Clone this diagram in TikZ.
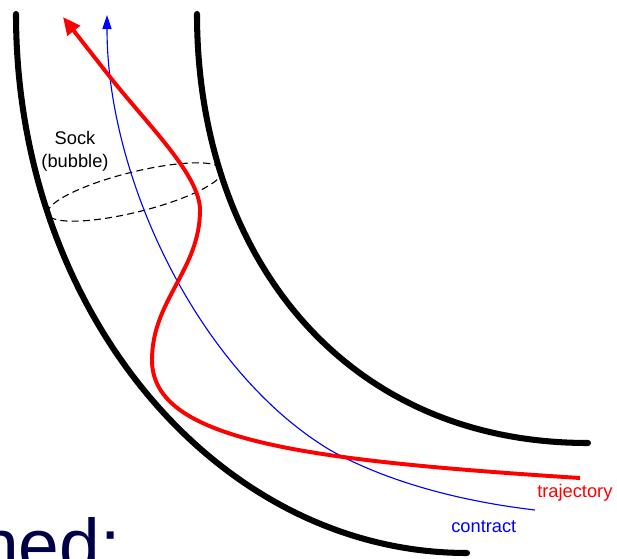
\documentclass[tikz,border=0pt]{standalone}
\usepackage{fontspec}
\setmainfont{Liberation Sans}
\usetikzlibrary{arrows.meta}
\definecolor{slidenavy}{RGB}{0,0,72}

\begin{document}
\begin{tikzpicture}[
    x=0.025cm, y=-0.025cm,
    wall/.style={line width=4.3pt, line cap=round, black},
    traj/.style={line width=2.8pt, red, -{Triangle[length=12.5pt, width=11pt]}},
    contr/.style={line width=0.8pt, blue, -{Triangle[length=10pt, width=6.5pt]}},
    sockline/.style={dash pattern=on 5pt off 3pt, line width=0.8pt},
    lbl/.style={font=\fontsize{13}{16.3}\selectfont, inner sep=0pt},
]
\useasboundingbox (0,0) rectangle (617,558);
\clip (0,0) rectangle (617,558);

% tube walls
\draw[wall] (16,14) .. controls (16,312) and (218,553) .. (467,553);
\draw[wall] (197,14) .. controls (197,251) and (340,443) .. (588,443);

% sock (bubble) cross-section
\coordinate (sockc) at (135,192);
\draw[sockline, rotate around={14:(sockc)}] (sockc) ellipse [x radius=90, y radius=20];
\node[lbl, align=center] (sock) at (75,151) {Sock\\(bubble)};

% contract and trajectory
\draw[contr] (535,510) .. controls (450,500) and (380,478) .. (330,450)
    .. controls (200,372) and (107,180) .. (107,15);
\draw[traj] (580,478) .. controls (300,460) and (152,440) .. (152,360)
    .. controls (152,300) and (200,270) .. (200,210)
    .. controls (200,175) and (147,124) .. (110,77) -- (63,17);

% labels
\node[lbl, red, anchor=base west] (trajlbl) at (537,497) {trajectory};
\node[lbl, blue, anchor=base west] (contrlbl) at (451,532) {contract};

% slide text, cut off by the frame
\node[font=\fontsize{52}{60}\selectfont, text=slidenavy, inner sep=0pt, anchor=base west] (slidetxt) at (-22,570) {ned:};
\end{tikzpicture}
\end{document}
